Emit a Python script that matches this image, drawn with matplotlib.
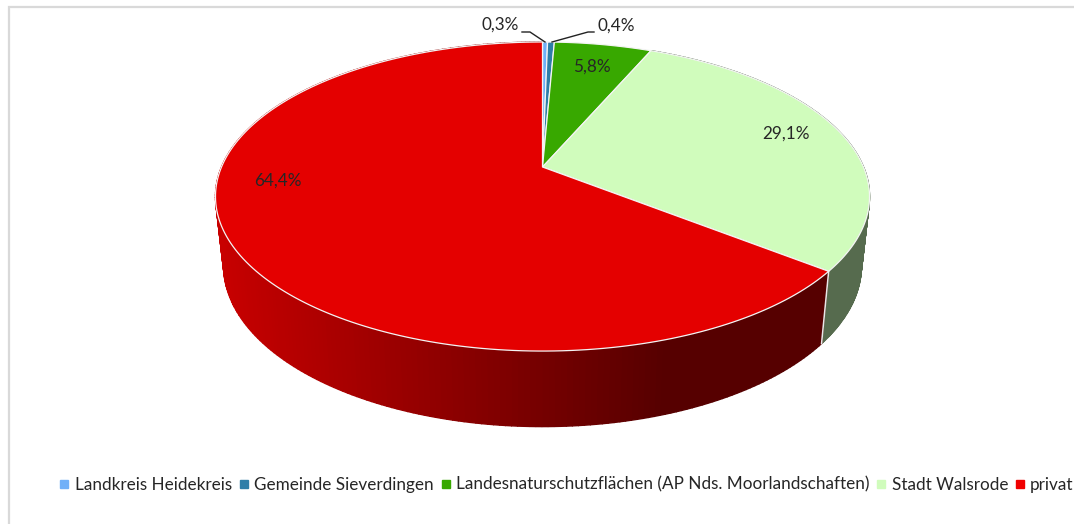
import numpy as np
import matplotlib
matplotlib.use('AGG')
import matplotlib.pyplot as plt
from matplotlib.colors import to_rgb
from matplotlib.lines import Line2D
from matplotlib.patches import Polygon

categories = ['Landkreis Heidekreis', 'Gemeinde Sieverdingen',
              'Landesnaturschutzflächen (AP Nds. Moorlandschaften)',
              'Stadt Walsrode', 'privat']
shares = [0.3, 0.4, 5.8, 29.1, 64.4]
labels = ['0,3%', '0,4%', '5,8%', '29,1%', '64,4%']
colors = ['#70b0f8', '#2e7ea8', '#38a800', '#d0fcbc', '#e40000']

# wall shading: (colour at the left end, colour at the right end)
wall_colors = {3: ('#566b4e', '#566b4e'), 4: ('#c80000', '#560000')}
SHADE_END_X = 665

plt.rcParams['font.family'] = ['Lato', 'DejaVu Sans']
FONT = 12.3
TEXT = '#262626'

CX = 542.5
TOP = dict(a=321.0, b=148.9, y0=167.0, k=0.191)
BOTTOM = dict(a=313.0, b=155.0, y0=235.0, k=0.191)


def project(angle, plane):
    # angle clockwise from 12 o'clock, circle in perspective
    x = np.sin(angle)
    y = -np.cos(angle)
    w = 1 - plane['k'] * y
    return CX + plane['a'] * x / w, plane['y0'] + plane['b'] * y / w


def arc(start, end, plane, n=200):
    t = np.linspace(start, end, n)
    return np.column_stack(project(t, plane))


fig = plt.figure(figsize=(10.74, 5.24), dpi=100)
ax = fig.add_axes([0, 0, 1, 1])
ax.set_xlim(0, 1074)
ax.set_ylim(524, 0)
ax.axis('off')

edges = np.concatenate([[0], np.cumsum(shares)]) / sum(shares) * 2 * np.pi

# frame, only left and top are in the crop
ax.plot([8.5, 8.5, 1074], [524, 7, 7], color='#d9d9d9', lw=1.6, solid_joinstyle='miter')

# side walls, overlapping strips so the shading runs along the rim
for i, (c_a, c_b) in wall_colors.items():
    t = np.linspace(edges[i], edges[i + 1], 260)
    xt, yt = project(t, TOP)
    xb, yb = project(t, BOTTOM)
    ca = np.array(to_rgb(c_a))
    cb = np.array(to_rgb(c_b))
    x_min = xb.min()
    for j in range(len(t) - 1):
        f = min(1, (xb[j] - x_min) / (SHADE_END_X - x_min))
        col = ca + (cb - ca) * f
        ax.add_patch(Polygon([(xt[j], yt[j]), (xt[j + 1], yt[j + 1]),
                              (xb[j + 1], yb[j + 1]), (xb[j], yb[j])],
                             closed=True, fc=col, ec=col, lw=1.0, zorder=1))

# white seam on the wall between the two front slices
xs, ys = project(edges[4], TOP)
xs2, ys2 = project(edges[4], BOTTOM)
ax.plot([xs, xs2], [ys, ys2], color='#e8e8e8', lw=1.1, zorder=2)

# top face
apex = (CX, TOP['y0'])
for i in range(len(shares)):
    pts = np.vstack([apex, arc(edges[i], edges[i + 1], TOP)])
    ax.add_patch(Polygon(pts, closed=True, fc=colors[i], ec='#f4f4f4', lw=0.9,
                         joinstyle='round', zorder=3))

# data labels
label_pos = [(500, 25), (616, 26), (592, 67), (786, 134), (278, 181)]
for lab, (x, y) in zip(labels, label_pos):
    ax.text(x, y, lab, ha='center', va='center', fontsize=FONT, color=TEXT, zorder=5)

# leader lines for the two small slices
ax.plot([522, 530, 545], [32, 32, 42], color='#222222', lw=1.0, zorder=4)
ax.plot([594, 588, 552], [32, 32, 42], color='#222222', lw=1.0, zorder=4)

handles = [Line2D([], [], ls='none', marker='s', ms=5.6, mfc=c, mec=c) for c in
           colors[:4] + ['#f00000']]
ax.legend(handles, categories, ncol=5, loc='center', bbox_to_anchor=(566.5, 484.5),
          bbox_transform=ax.transData, frameon=False, fontsize=FONT, labelcolor=TEXT,
          handlelength=0.6, handletextpad=0.3, columnspacing=0.4, borderpad=0, borderaxespad=0)

fig.savefig('out.png', dpi=100, facecolor='white')
